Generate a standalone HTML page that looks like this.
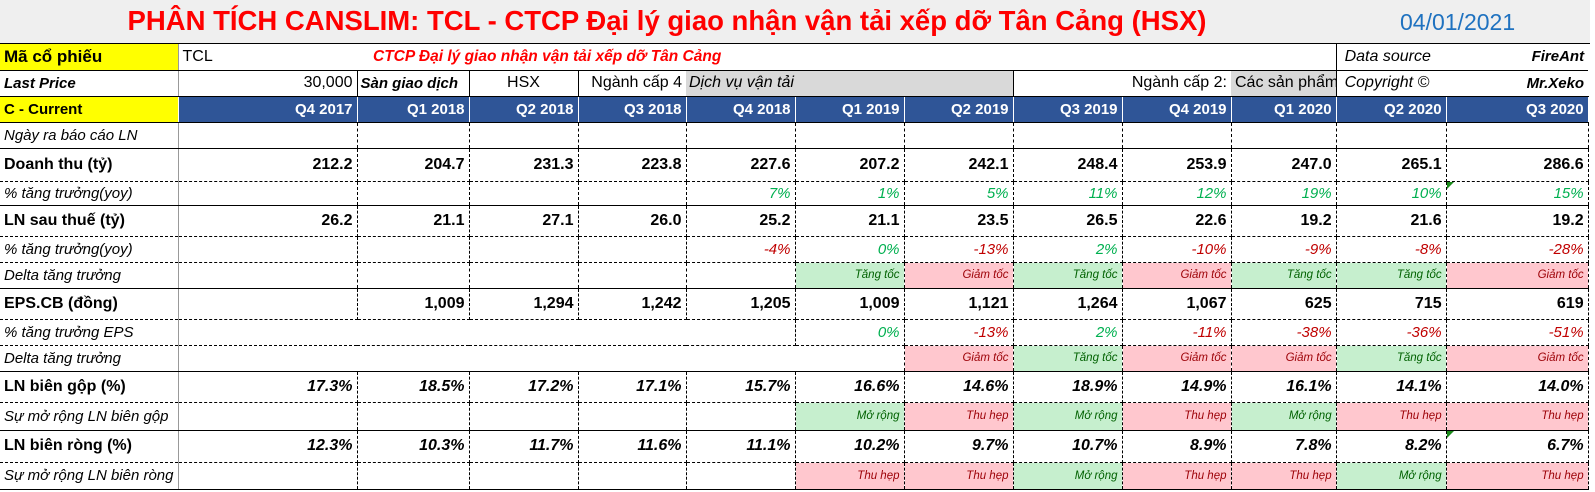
<!DOCTYPE html>
<html><head><meta charset="utf-8">
<style>
body{margin:0;background:#fff;width:1595px;height:492px;overflow:hidden;font-family:"Liberation Sans",sans-serif;}
#title{position:absolute;left:0;top:0;width:1590px;height:43px;background:#efefef;border-bottom:1px solid #000;}
#title .t{position:absolute;left:0;width:1334px;top:5px;text-align:center;color:#f00;font-weight:bold;font-size:27.5px;white-space:nowrap;}
#title .d{position:absolute;left:1400px;top:9px;color:#1f72c0;font-size:23px;}
table{position:absolute;left:0;top:44px;width:1588px;border-collapse:collapse;table-layout:fixed;}
td{padding:0 4px;white-space:nowrap;overflow:hidden;font-size:15px;color:#000;border-right:1px dashed #000;border-bottom:1px dashed #000;text-align:right;}
td.l{text-align:left;border-right:1px solid #999;}
tr.s td{border-bottom:1px solid #000;}
tr.h td{background:#2f5597;color:#fff;font-weight:bold;font-size:15px;border-right:1px solid #fff;border-bottom:1px solid #000;}
tr.h td.l{background:#ff0;color:#000;font-size:15px;}
.b{font-weight:bold;font-size:16px;}
.i{font-style:italic;}
.bi{font-weight:bold;font-style:italic;font-size:16px;}
.g{color:#00b050;font-style:italic;}
.r{color:#c00000;font-style:italic;}
.G{background:#c6efce;color:#006100;font-style:italic;font-size:11.5px;}
.P{background:#ffc7ce;color:#9c0006;font-style:italic;font-size:11.5px;}
.nb{border-right:none;}
.tri{position:relative;}
.tri:before{content:"";position:absolute;left:0;top:0;border-top:7px solid #1a8a1a;border-right:7px solid transparent;}
</style></head><body>
<div id="title"><div class="t">PHÂN TÍCH CANSLIM: TCL - CTCP Đại lý giao nhận vận tải xếp dỡ Tân Cảng (HSX)</div><div class="d">04/01/2021</div></div>
<table>
<colgroup><col style="width:178px"><col style="width:179px"><col style="width:112px"><col style="width:109px"><col style="width:108px"><col style="width:109px"><col style="width:109px"><col style="width:109px"><col style="width:109px"><col style="width:109px"><col style="width:105px"><col style="width:110px"><col style="width:142px"></colgroup>
<tr class="s" style="height:26px"><td class="l b" style="background:#ff0;font-size:17px;border-right:1px solid #999">Mã cổ phiếu</td><td class="nb" style="text-align:left;font-size:16px">TCL</td><td colspan="9" style="text-align:left;padding-left:16px;color:#f00;font-weight:bold;font-style:italic;font-size:15.5px;border-right:1px solid #000">CTCP Đại lý giao nhận vận tải xếp dỡ Tân Cảng</td><td class="nb i" style="text-align:left;padding-left:8px;font-size:16px">Data source</td><td class="bi" style="font-size:15px;border-right:none">FireAnt</td></tr>
<tr class="s" style="height:26px"><td class="l bi" style="font-size:15px">Last Price</td><td style="border-right:1px solid #000;font-size:16px">30,000</td><td class="bi" style="text-align:left;font-size:15px;padding-left:3px;border-right:1px solid #000">Sàn giao dịch</td><td style="text-align:center;border-right:1px solid #000;font-size:16px">HSX</td><td class="nb" style="font-size:16px">Ngành cấp 4</td><td colspan="3" class="i" style="text-align:left;background:#d9d9d9;border-right:1px solid #000;padding-left:3px;font-size:16px">Dịch vụ vận tải</td><td colspan="2" class="nb" style="font-size:16px">Ngành cấp 2:</td><td style="text-align:left;background:#d9d9d9;border-right:1px solid #000;font-size:16px">Các sản phẩm v</td><td class="nb i" style="text-align:left;padding-left:8px;font-size:16px">Copyright ©</td><td class="bi" style="font-size:15px;border-right:none">Mr.Xeko</td></tr>
<tr class="h" style="height:26px"><td class="l">C - Current</td><td>Q4 2017</td><td>Q1 2018</td><td>Q2 2018</td><td>Q3 2018</td><td>Q4 2018</td><td>Q1 2019</td><td>Q2 2019</td><td>Q3 2019</td><td>Q4 2019</td><td>Q1 2020</td><td>Q2 2020</td><td>Q3 2020</td></tr>
<tr class="s" style="height:26px"><td class="l i">Ngày ra báo cáo LN</td><td></td><td></td><td></td><td></td><td></td><td></td><td></td><td></td><td></td><td></td><td></td><td></td></tr>
<tr style="height:33px" class="b"><td class="l b">Doanh thu (tỷ)</td><td class="b">212.2</td><td class="b">204.7</td><td class="b">231.3</td><td class="b">223.8</td><td class="b">227.6</td><td class="b">207.2</td><td class="b">242.1</td><td class="b">248.4</td><td class="b">253.9</td><td class="b">247.0</td><td class="b">265.1</td><td class="b">286.6</td></tr>
<tr class="s" style="height:24px"><td class="l i">% tăng trưởng(yoy)</td><td></td><td></td><td></td><td></td><td class="g">7%</td><td class="g">1%</td><td class="g">5%</td><td class="g">11%</td><td class="g">12%</td><td class="g">19%</td><td class="g">10%</td><td class="g tri">15%</td></tr>
<tr style="height:31px"><td class="l b">LN sau thuế (tỷ)</td><td class="b">26.2</td><td class="b">21.1</td><td class="b">27.1</td><td class="b">26.0</td><td class="b">25.2</td><td class="b">21.1</td><td class="b">23.5</td><td class="b">26.5</td><td class="b">22.6</td><td class="b">19.2</td><td class="b">21.6</td><td class="b">19.2</td></tr>
<tr style="height:26px"><td class="l i">% tăng trưởng(yoy)</td><td></td><td></td><td></td><td></td><td class="r">-4%</td><td class="g">0%</td><td class="r">-13%</td><td class="g">2%</td><td class="r">-10%</td><td class="r">-9%</td><td class="r">-8%</td><td class="r">-28%</td></tr>
<tr class="s" style="height:26px"><td class="l i">Delta tăng trưởng</td><td></td><td></td><td></td><td></td><td></td><td class="G">Tăng tốc</td><td class="P">Giảm tốc</td><td class="G">Tăng tốc</td><td class="P">Giảm tốc</td><td class="G">Tăng tốc</td><td class="G">Tăng tốc</td><td class="P">Giảm tốc</td></tr>
<tr style="height:31px"><td class="l b">EPS.CB (đồng)</td><td></td><td class="b">1,009</td><td class="b">1,294</td><td class="b">1,242</td><td class="b">1,205</td><td class="b">1,009</td><td class="b">1,121</td><td class="b">1,264</td><td class="b">1,067</td><td class="b">625</td><td class="b">715</td><td class="b">619</td></tr>
<tr style="height:26px"><td class="l i">% tăng trưởng EPS</td><td class="nb"></td><td class="nb"></td><td class="nb"></td><td class="nb"></td><td></td><td class="g">0%</td><td class="r">-13%</td><td class="g">2%</td><td class="r">-11%</td><td class="r">-38%</td><td class="r">-36%</td><td class="r">-51%</td></tr>
<tr class="s" style="height:26px"><td class="l i">Delta tăng trưởng</td><td class="nb"></td><td class="nb"></td><td class="nb"></td><td class="nb"></td><td class="nb"></td><td></td><td class="P">Giảm tốc</td><td class="G">Tăng tốc</td><td class="P">Giảm tốc</td><td class="P">Giảm tốc</td><td class="G">Tăng tốc</td><td class="P">Giảm tốc</td></tr>
<tr style="height:31px"><td class="l b">LN biên gộp (%)</td><td class="bi">17.3%</td><td class="bi">18.5%</td><td class="bi">17.2%</td><td class="bi">17.1%</td><td class="bi">15.7%</td><td class="bi">16.6%</td><td class="bi">14.6%</td><td class="bi">18.9%</td><td class="bi">14.9%</td><td class="bi">16.1%</td><td class="bi">14.1%</td><td class="bi">14.0%</td></tr>
<tr class="s" style="height:28px"><td class="l i">Sự mở rộng LN biên gộp</td><td></td><td></td><td></td><td></td><td></td><td class="G">Mở rộng</td><td class="P">Thu hẹp</td><td class="G">Mở rộng</td><td class="P">Thu hẹp</td><td class="G">Mở rộng</td><td class="P">Thu hẹp</td><td class="P">Thu hẹp</td></tr>
<tr style="height:32px"><td class="l b">LN biên ròng (%)</td><td class="bi">12.3%</td><td class="bi">10.3%</td><td class="bi">11.7%</td><td class="bi">11.6%</td><td class="bi">11.1%</td><td class="bi">10.2%</td><td class="bi">9.7%</td><td class="bi">10.7%</td><td class="bi">8.9%</td><td class="bi">7.8%</td><td class="bi">8.2%</td><td class="bi tri">6.7%</td></tr>
<tr class="s" style="height:27px"><td class="l i">Sự mở rộng LN biên ròng</td><td></td><td></td><td></td><td></td><td></td><td class="P">Thu hẹp</td><td class="P">Thu hẹp</td><td class="G">Mở rộng</td><td class="P">Thu hẹp</td><td class="P">Thu hẹp</td><td class="G">Mở rộng</td><td class="P">Thu hẹp</td></tr>
</table>
</body></html>
